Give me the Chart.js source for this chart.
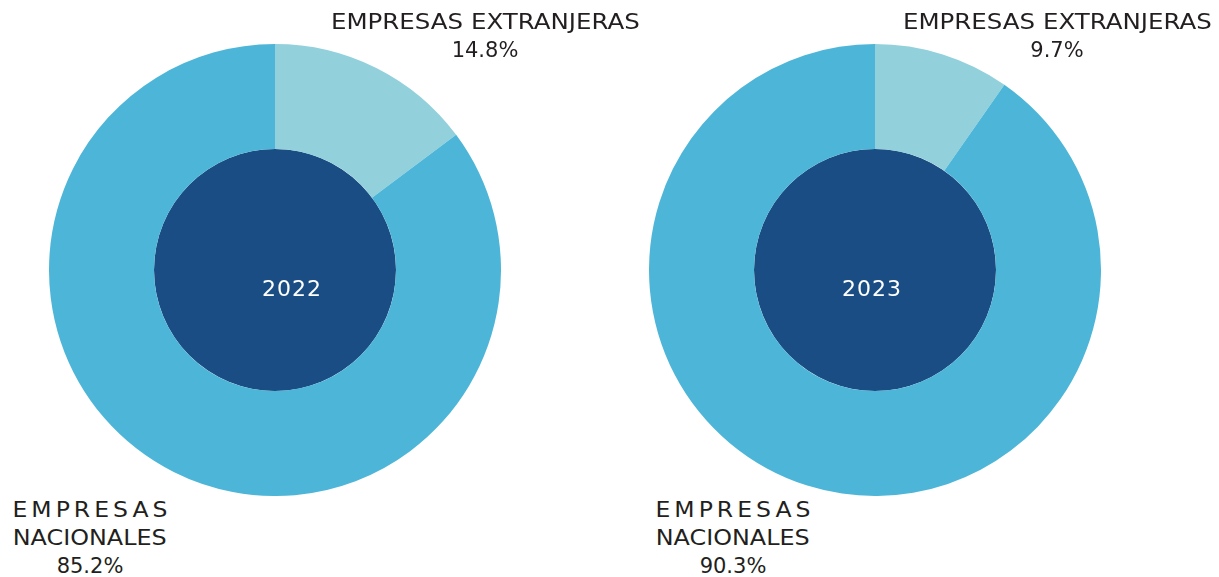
<!DOCTYPE html>
<html>
<head>
<meta charset="utf-8">
<script src="https://cdn.jsdelivr.net/npm/chart.js@4.4.1/dist/chart.umd.min.js"></script>
<style>
  body { margin: 0; background: #fff; width: 1219px; height: 577px; overflow: hidden; position: relative;
         font-family: "DejaVu Sans", sans-serif; color: #231f20; }
  .box { position: absolute; width: 452px; height: 452px; }
  .lbl { position: absolute; width: 400px; font-size: 21px; line-height: 28px; text-align: center; white-space: nowrap; }
  .lbl span { display: inline-block; transform-origin: 50% 50%; }
  .year { position: absolute; color: #fff; font-size: 22px; line-height: 28px; text-align: center; width: 100px; }
  .year span { display: inline-block; }
</style>
</head>
<body>
<div class="box" style="left:49px;top:44px"><canvas id="c2022"></canvas></div>
<div class="box" style="left:649px;top:44px"><canvas id="c2023"></canvas></div>

<div class="year" id="y0" style="left:242px;top:275px"></div>
<div class="year" id="y1" style="left:822px;top:275px"></div>

<div class="lbl" id="top0" style="left:285px;top:8px"></div>
<div class="lbl" id="top1" style="left:857px;top:8px"></div>
<div class="lbl" id="bot0" style="left:-110px;top:496px"></div>
<div class="lbl" id="bot1" style="left:533px;top:496px"></div>

<script>
const years = ["2022", "2023"];
const categories = ["EMPRESAS EXTRANJERAS", "EMPRESAS NACIONALES"];
const extranjeras = [14.8, 9.7];
const nacionales = [85.2, 90.3];

const colors = ["#92d1dc", "#4db6d8"];
const centerColor = "#1b4d85";

const ctx = document.createElement("canvas").getContext("2d");
const f21 = '21px "DejaVu Sans"';
const wide = 1.12; // the original face is wider than DejaVu

// stretch a line of text to a width; with a fixed scale, fill the rest with letter-spacing
function line(text, width, scale) {
  const s = document.createElement("span");
  s.textContent = text;
  ctx.font = f21;
  const w = ctx.measureText(text).width;
  const k = scale || (width ? width / w : 1);
  s.style.transform = "scaleX(" + k + ")";
  if (width && scale) {
    const sp = (width / k - w) / (text.length - 1);
    s.style.letterSpacing = sp + "px";
    s.style.marginRight = -sp + "px";
  }
  return s;
}

function fill(id, lines) {
  const el = document.getElementById(id);
  lines.forEach((l, k) => {
    if (k) el.appendChild(document.createElement("br"));
    el.appendChild(l);
  });
}

years.forEach((yr, i) => {
  const y = document.getElementById("y" + i);
  const ys = document.createElement("span");
  ys.textContent = yr;
  ys.style.letterSpacing = "1px";
  y.appendChild(ys);

  const [ext, nac] = categories;
  const words = nac.split(" ");
  fill("top" + i, [line(ext, 309), line(extranjeras[i].toFixed(1) + "%")]);
  fill("bot" + i, [
    line(words[0], 155, wide),
    line(words[1], 154),
    line(nacionales[i].toFixed(1) + "%")
  ]);

  new Chart(document.getElementById("c" + yr), {
    type: "doughnut",
    data: {
      labels: categories,
      datasets: [
        {
          data: [extranjeras[i], nacionales[i]],
          backgroundColor: colors,
          borderWidth: 0,
          weight: 105
        },
        {
          data: [1],
          backgroundColor: [centerColor],
          borderWidth: 0,
          weight: 121
        }
      ]
    },
    options: {
      responsive: true,
      maintainAspectRatio: false,
      cutout: 0,
      animation: false,
      layout: { padding: 0 },
      plugins: { legend: { display: false }, tooltip: { enabled: false } }
    }
  });
});
</script>
</body>
</html>
